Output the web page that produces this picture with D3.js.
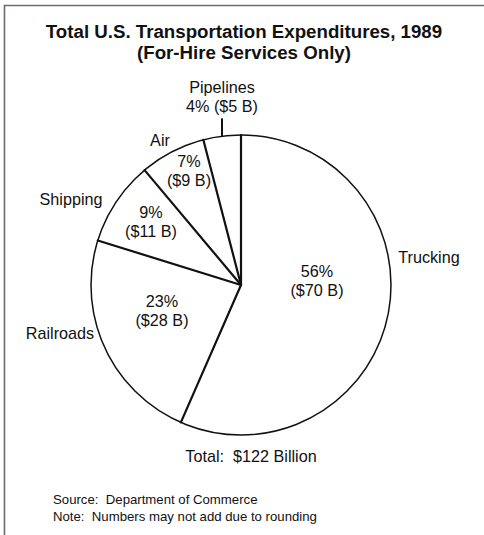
<!DOCTYPE html>
<html>
<head>
<meta charset="utf-8">
<script src="https://cdn.jsdelivr.net/npm/d3@7"></script>
<style>
  html, body { margin: 0; padding: 0; background: #fff; }
  svg { display: block; }
  text { font-family: "Liberation Sans", Arial, Helvetica, sans-serif; fill: #111; }
</style>
</head>
<body>
<script>
// Expenditure shares (percent) and amounts (billions of dollars), 1989
const categories = ["Trucking", "Railroads", "Shipping", "Air", "Pipelines"];
const percents   = [56, 23, 9, 7, 4];
const billions   = [70, 28, 11, 9, 5];
const totalBillions = 122;

const titleLines = ["Total U.S. Transportation Expenditures, 1989", "(For-Hire Services Only)"];
const footLines  = ["Source:  Department of Commerce", "Note:  Numbers may not add due to rounding"];

const W = 484, H = 535;
const cx = 241, cy = 285, R = 150;
const labelSize = 16.2;

// Label placement relative to the pie centre: value block (inside) and name (outside)
const valueOffsets = {
  Trucking:  [76, -8],
  Railroads: [-79, 22],
  Shipping:  [-90, -67],
  Air:       [-52, -118]
};
const nameOffsets = {
  Trucking:  [188, -22],
  Railroads: [-181, 54],
  Shipping:  [-170, -80],
  Air:       [-81, -139]
};

const svg = d3.select("body").append("svg")
  .attr("width", W).attr("height", H);

svg.append("rect").attr("width", W).attr("height", H).attr("fill", "#fff");

// Frame (top and left edges)
svg.append("path")
  .attr("d", `M4.5,${H} V5.5 H${W}`)
  .attr("fill", "none")
  .attr("stroke", "#6f6a6c")
  .attr("stroke-width", 1.6);

// Title
const title = svg.append("text")
  .attr("text-anchor", "middle")
  .attr("font-weight", "bold")
  .attr("font-size", 18.7);
titleLines.forEach((t, i) => {
  title.append("tspan").attr("x", 244).attr("y", 38 + i * 21).text(t);
});

const data = categories.map((c, i) => ({ name: c, pct: percents[i], amt: billions[i] }));

const pie = d3.pie().sort(null).value(d => d.pct);
const arcs = pie(data);

const g = svg.append("g").attr("transform", `translate(${cx},${cy})`);

const arcGen = d3.arc().innerRadius(0).outerRadius(R);

// Slice fills
g.selectAll("path.slice").data(arcs).join("path")
  .attr("class", "slice")
  .attr("d", arcGen)
  .attr("fill", "#fff")
  .attr("stroke", "none");

// Outer circle
g.append("circle").attr("r", R)
  .attr("fill", "none").attr("stroke", "#111").attr("stroke-width", 1.5);

// Radial boundaries between slices
g.selectAll("line.sep").data(arcs).join("line")
  .attr("class", "sep")
  .attr("x1", 0).attr("y1", 0)
  .attr("x2", d => d3.pointRadial(d.startAngle, R)[0])
  .attr("y2", d => d3.pointRadial(d.startAngle, R)[1])
  .attr("stroke", "#111").attr("stroke-width", 2.2).attr("stroke-linecap", "round");

// Value labels inside slices
arcs.filter(d => valueOffsets[d.data.name]).forEach(d => {
  const [dx, dy] = valueOffsets[d.data.name];
  const t = g.append("text").attr("text-anchor", "middle").attr("font-size", labelSize);
  t.append("tspan").attr("x", dx).attr("y", dy).text(`${d.data.pct}%`);
  t.append("tspan").attr("x", dx).attr("y", dy + 19).text(`($${d.data.amt} B)`);
});

// Category names outside the pie
arcs.filter(d => nameOffsets[d.data.name]).forEach(d => {
  const [dx, dy] = nameOffsets[d.data.name];
  g.append("text").attr("text-anchor", "middle").attr("font-size", labelSize)
    .attr("x", dx).attr("y", dy).text(d.data.name);
});

// Pipelines: too thin for an inside label, so a leader line points to it
const pipe = arcs.find(d => d.data.name === "Pipelines");
const mid = (pipe.startAngle + pipe.endAngle) / 2;
const p0 = d3.pointRadial(mid, R);
const p1 = d3.pointRadial(mid, R + 18);
g.append("line")
  .attr("x1", p0[0]).attr("y1", p0[1])
  .attr("x2", p0[0]).attr("y2", p1[1])
  .attr("stroke", "#111").attr("stroke-width", 2);
const pt = g.append("text").attr("text-anchor", "middle").attr("font-size", labelSize);
pt.append("tspan").attr("x", p0[0]).attr("y", p1[1] - 25).text(pipe.data.name);
pt.append("tspan").attr("x", p0[0]).attr("y", p1[1] - 6).text(`${pipe.data.pct}% ($${pipe.data.amt} B)`);

// Total
svg.append("text").attr("text-anchor", "middle").attr("font-size", labelSize)
  .attr("x", 251).attr("y", 462)
  .attr("xml:space", "preserve")
  .text(`Total:  $${totalBillions} Billion`);

// Footnotes
const foot = svg.append("text").attr("font-size", 13.2).attr("xml:space", "preserve");
footLines.forEach((t, i) => {
  foot.append("tspan").attr("x", 53).attr("y", 504 + i * 17).text(t);
});
</script>
</body>
</html>
